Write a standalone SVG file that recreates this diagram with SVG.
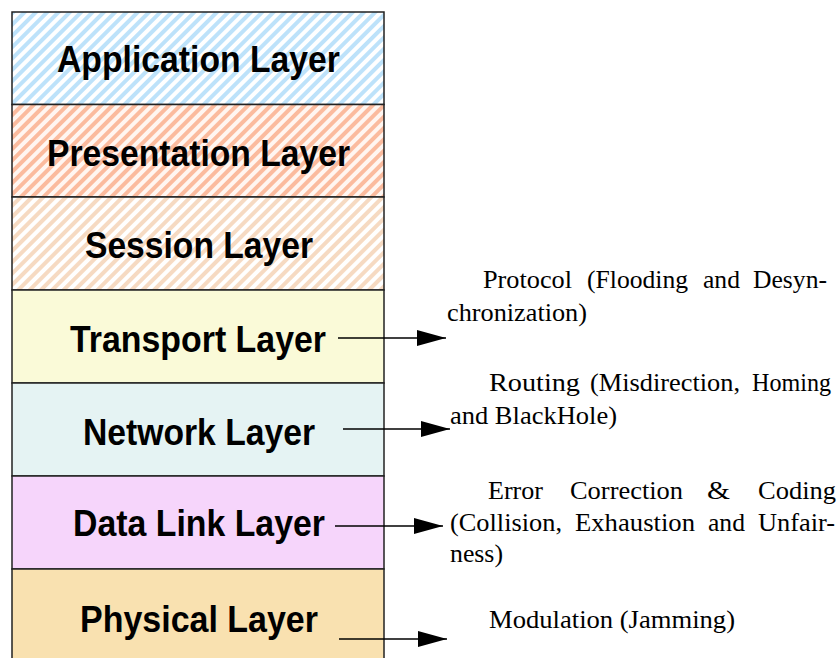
<svg xmlns="http://www.w3.org/2000/svg" width="839" height="658" viewBox="0 0 839 658">
<style>
.layer{stroke:#222;stroke-width:1.5}
.lbl{font-family:"Liberation Sans",Arial,sans-serif;font-weight:bold;font-size:37px;fill:#000;text-anchor:middle}
.desc{font-family:"Liberation Serif","Times New Roman",serif;font-size:25px;fill:#000}
.conn{stroke:#000;stroke-width:1.5;fill:none}
</style>
<defs>
<pattern id="hBlue" patternUnits="userSpaceOnUse" width="8" height="8" patternTransform="rotate(45)">
<rect width="8" height="8" fill="#ffffff"/><rect width="4" height="8" fill="#bde2fa"/>
</pattern>
<pattern id="hOrange" patternUnits="userSpaceOnUse" width="8" height="8" patternTransform="rotate(45)">
<rect width="8" height="8" fill="#fff6f1"/><rect width="4" height="8" fill="#fbbb9e"/>
</pattern>
<pattern id="hPeach" patternUnits="userSpaceOnUse" width="8" height="8" patternTransform="rotate(45)">
<rect width="8" height="8" fill="#ffffff"/><rect width="4" height="8" fill="#f6dac2"/>
</pattern>
<marker id="arr" markerUnits="userSpaceOnUse" markerWidth="29" markerHeight="16" refX="29" refY="8" orient="auto">
<path d="M0,0 L29,8 L0,16 z" fill="#000"/>
</marker>
</defs>
<rect width="839" height="658" fill="#fff"/>
<g id="application"><rect class="layer" x="12" y="12" width="372" height="92.5" fill="url(#hBlue)"/><text class="lbl" x="198.5" y="72" textLength="283" lengthAdjust="spacingAndGlyphs">Application Layer</text></g>
<g id="presentation"><rect class="layer" x="12" y="104.5" width="372" height="92.5" fill="url(#hOrange)"/><text class="lbl" x="198.5" y="166" textLength="303" lengthAdjust="spacingAndGlyphs">Presentation Layer</text></g>
<g id="session"><rect class="layer" x="12" y="197" width="372" height="93" fill="url(#hPeach)"/><text class="lbl" x="199" y="258" textLength="228" lengthAdjust="spacingAndGlyphs">Session Layer</text></g>
<g id="transport"><rect class="layer" x="12" y="290" width="372" height="93" fill="#fafad8"/><text class="lbl" x="198" y="352" textLength="256" lengthAdjust="spacingAndGlyphs">Transport Layer</text></g>
<g id="network"><rect class="layer" x="12" y="383" width="372" height="93" fill="#e5f3f3"/><text class="lbl" x="199" y="445" textLength="232" lengthAdjust="spacingAndGlyphs">Network Layer</text></g>
<g id="datalink"><rect class="layer" x="12" y="476" width="372" height="93" fill="#f6d5fb"/><text class="lbl" x="199" y="536" textLength="252" lengthAdjust="spacingAndGlyphs">Data Link Layer</text></g>
<g id="physical"><rect class="layer" x="12" y="569" width="372" height="95" fill="#f9e1b0"/><text class="lbl" x="199" y="632" textLength="238" lengthAdjust="spacingAndGlyphs">Physical Layer</text></g>
<g id="connectors">
<line class="conn" x1="338" y1="338" x2="446" y2="338" marker-end="url(#arr)"/>
<line class="conn" x1="343" y1="429" x2="450" y2="429" marker-end="url(#arr)"/>
<line class="conn" x1="335" y1="526" x2="443" y2="526" marker-end="url(#arr)"/>
<line class="conn" x1="339" y1="639" x2="447" y2="639" marker-end="url(#arr)"/>
</g>
<g id="descriptions">
<text class="desc" y="288" lengthAdjust="spacingAndGlyphs"><tspan x="483" textLength="89" lengthAdjust="spacingAndGlyphs">Protocol</tspan> <tspan x="587" textLength="101" lengthAdjust="spacingAndGlyphs">(Flooding</tspan> <tspan x="703" textLength="37" lengthAdjust="spacingAndGlyphs">and</tspan> <tspan x="753" textLength="74" lengthAdjust="spacingAndGlyphs">Desyn-</tspan></text>
<text class="desc" x="447" y="321" textLength="140" lengthAdjust="spacingAndGlyphs">chronization)</text>
<text class="desc" y="391"><tspan x="489" textLength="91" lengthAdjust="spacingAndGlyphs">Routing</tspan> <tspan x="590" textLength="150" lengthAdjust="spacingAndGlyphs">(Misdirection,</tspan> <tspan x="752" textLength="79" lengthAdjust="spacingAndGlyphs">Homing</tspan></text>
<text class="desc" x="450" y="424" textLength="167" lengthAdjust="spacingAndGlyphs">and BlackHole)</text>
<text class="desc" y="499"><tspan x="488" textLength="55" lengthAdjust="spacingAndGlyphs">Error</tspan> <tspan x="570" textLength="113" lengthAdjust="spacingAndGlyphs">Correction</tspan> <tspan x="707" textLength="23" lengthAdjust="spacingAndGlyphs">&amp;</tspan> <tspan x="758" textLength="78" lengthAdjust="spacingAndGlyphs">Coding</tspan></text>
<text class="desc" y="531"><tspan x="450" textLength="112" lengthAdjust="spacingAndGlyphs">(Collision,</tspan> <tspan x="575" textLength="120" lengthAdjust="spacingAndGlyphs">Exhaustion</tspan> <tspan x="708" textLength="37" lengthAdjust="spacingAndGlyphs">and</tspan> <tspan x="758" textLength="77" lengthAdjust="spacingAndGlyphs">Unfair-</tspan></text>
<text class="desc" x="450" y="562" textLength="53" lengthAdjust="spacingAndGlyphs">ness)</text>
<text class="desc" x="489" y="628" textLength="246" lengthAdjust="spacingAndGlyphs">Modulation (Jamming)</text>
</g>
</svg>
